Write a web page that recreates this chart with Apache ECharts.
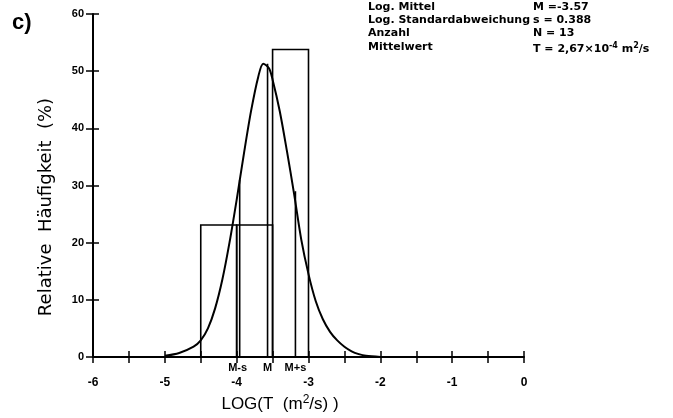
<!DOCTYPE html>
<html>
<head>
<meta charset="utf-8">
<script src="https://cdn.jsdelivr.net/npm/echarts/dist/echarts.min.js"></script>
<style>
  html, body { margin: 0; padding: 0; background: #fff; }
  #chart { width: 673px; height: 418px; }
</style>
</head>
<body>
<div id="chart"></div>
<script>
// Klassen (Histogramm), Breite 0.5 log-Einheiten
var binStart = [-4.5, -4.0, -3.5];
var binEnd = [-4.0, -3.5, -3.0];
var binHeight = [23.1, 23.1, 53.8];

// Normalverteilungskurve
var curveX = [-5.0, -4.8, -4.6, -4.5, -4.4, -4.3, -4.2, -4.1, -4.0, -3.9, -3.8, -3.7, -3.63, -3.55, -3.5, -3.4, -3.3, -3.2, -3.1, -3.0, -2.9, -2.8, -2.7, -2.6, -2.5, -2.4, -2.3, -2.2, -2.0];
var curveY = [0.2, 0.7, 1.8, 2.9, 5.0, 8.5, 13.5, 20.0, 27.5, 35.5, 43.0, 49.0, 51.3, 50.5, 48.5, 43.0, 36.0, 28.5, 20.5, 14.5, 9.8, 6.6, 4.4, 2.9, 1.8, 1.0, 0.5, 0.2, 0.0];

// Markierungen M-s, M, M+s
var markX = [-3.958, -3.57, -3.182];
var markTop = [31.0, 51.3, 29.0];
var markLabel = ['M-s', 'M', 'M+s'];

var xTicks = [-6, -5, -4, -3, -2, -1, 0];

var statNames = ['Log. Mittel', 'Log. Standardabweichung', 'Anzahl', 'Mittelwert'];
var statValues = ['M =-3.57', 's = 0.388', 'N = 13', 'T = 2,67\u00d710{sup|-4} m{sup|2}/s'];

var FONT = 'Liberation Sans';
var STATFONT = 'DejaVu Sans';
var myChart = echarts.init(document.getElementById('chart'));

var statGraphics = [];
var statY = [8, 21, 34, 48];
statNames.forEach(function (name, i) {
  statGraphics.push({
    type: 'text', left: 368, top: statY[i] - 6,
    style: { text: name, font: 'bold 11px ' + STATFONT, fill: '#000' }
  });
  statGraphics.push({
    type: 'text', left: 533, top: statY[i] - 6,
    style: {
      text: statValues[i], font: 'bold 11px ' + STATFONT, fill: '#000',
      rich: { sup: { fontSize: 8, fontWeight: 'bold', fontFamily: STATFONT, verticalAlign: 'top', padding: [0, 0, 6, 0] } }
    }
  });
});

var option = {
  animation: false,
  backgroundColor: '#fff',
  grid: { left: 93, right: 149, top: 14, bottom: 61 },
  xAxis: [{
    type: 'value', min: -6, max: 0, interval: 0.5,
    axisLine: { onZero: false, lineStyle: { color: '#000', width: 2 } },
    axisTick: { length: 6, lineStyle: { color: '#000', width: 1.5 } },
    splitLine: { show: false },
    axisLabel: {
      margin: 20, color: '#000', fontWeight: 'bold', fontSize: 12, fontFamily: FONT,
      formatter: function (v) { return xTicks.indexOf(v) >= 0 ? String(v) : ''; }
    }
  }, {
    type: 'value', min: -6, max: 0, interval: 0.5, position: 'bottom',
    axisLine: { show: false, onZero: false },
    axisTick: { inside: true, length: 6, lineStyle: { color: '#000', width: 1.5 } },
    splitLine: { show: false },
    axisLabel: { show: false }
  }],
  yAxis: [{
    type: 'value', min: 0, max: 60, interval: 10, position: 'left',
    axisLine: { show: true, onZero: false, lineStyle: { color: '#000', width: 2 } },
    axisTick: { show: true, length: 7, lineStyle: { color: '#000', width: 1.5 } },
    splitLine: { show: false },
    axisLabel: { margin: 9, color: '#000', fontWeight: 'bold', fontSize: 11, fontFamily: FONT }
  }, {
    type: 'value', min: 0, max: 60, interval: 10, position: 'left',
    axisLine: { show: false, onZero: false },
    axisTick: { show: true, inside: true, length: 6, lineStyle: { color: '#000', width: 1.5 } },
    splitLine: { show: false },
    axisLabel: { show: false }
  }],
  graphic: [{
    type: 'text', left: 12, top: 12,
    style: { text: 'c)', font: 'bold 22px ' + FONT, fill: '#000' }
  }, {
    type: 'text', x: 46, y: 207, rotation: Math.PI / 2,
    style: {
      text: 'Relative  H\u00e4ufigkeit  (%)', font: '18px ' + STATFONT, fill: '#000',
      align: 'center', verticalAlign: 'middle'
    }
  }, {
    type: 'text', x: 280, y: 404,
    style: {
      text: 'LOG(T  (m{sup|2}/s) )', font: '17px ' + FONT, fill: '#000',
      align: 'center', verticalAlign: 'middle',
      rich: { sup: { fontSize: 12, fontFamily: FONT, verticalAlign: 'top', padding: [0, 0, 8, 0] } }
    }
  }].concat(statGraphics),
  series: [{
    name: 'Histogramm',
    type: 'custom',
    renderItem: function (params, api) {
      var p0 = api.coord([api.value(0), api.value(2)]);
      var p1 = api.coord([api.value(1), 0]);
      return {
        type: 'rect',
        shape: { x: p0[0], y: p0[1], width: p1[0] - p0[0], height: p1[1] - p0[1] },
        style: { fill: 'none', stroke: '#000', lineWidth: 1.6 }
      };
    },
    data: binStart.map(function (s, i) { return [s, binEnd[i], binHeight[i]]; })
  }, {
    name: 'Kennwerte',
    type: 'custom',
    clip: false,
    renderItem: function (params, api) {
      var pTop = api.coord([api.value(0), api.value(1)]);
      var pBot = api.coord([api.value(0), 0]);
      return {
        type: 'group',
        children: [{
          type: 'line',
          shape: { x1: pTop[0], y1: pTop[1], x2: pBot[0], y2: pBot[1] },
          style: { stroke: '#000', lineWidth: 1.6 }
        }, {
          type: 'text',
          x: pBot[0] + (params.dataIndex === 0 ? -2 : 0), y: pBot[1] + 11,
          style: {
            text: markLabel[params.dataIndex], font: 'bold 11px ' + FONT, fill: '#000',
            align: 'center', verticalAlign: 'middle'
          }
        }]
      };
    },
    data: markX.map(function (x, i) { return [x, markTop[i]]; })
  }, {
    name: 'Normalverteilung',
    type: 'line',
    smooth: 0.3,
    symbol: 'none',
    lineStyle: { color: '#000', width: 2 },
    data: curveX.map(function (x, i) { return [x, curveY[i]]; })
  }]
};
myChart.setOption(option);
</script>
</body>
</html>
